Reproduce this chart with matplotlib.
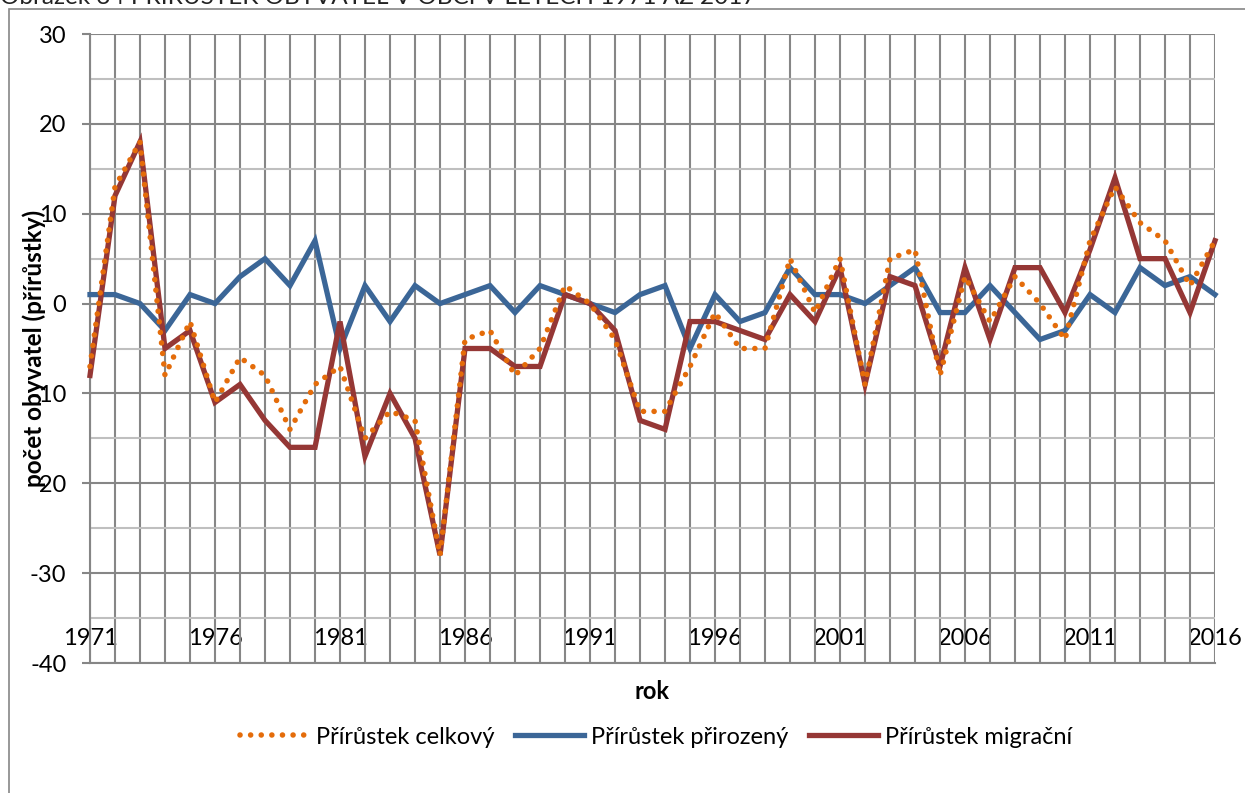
import matplotlib.pyplot as plt
from matplotlib.patches import Rectangle
from matplotlib.ticker import MultipleLocator

# DATA
years = list(range(1971, 2017))
celkovy = [-7, 13, 18, -8, -2, -11, -6, -8, -14, -9,
           -7, -15, -12, -13, -28, -4, -3, -8, -5, 2,
           0, -4, -12, -12, -7, -1, -5, -5, 5, -1,
           5, -9, 5, 6, -8, 3, -2, 3, 0, -4,
           7, 13, 9, 7, 2, 7]
prirozeny = [1, 1, 0, -3, 1, 0, 3, 5, 2, 7,
             -5, 2, -2, 2, 0, 1, 2, -1, 2, 1,
             0, -1, 1, 2, -5, 1, -2, -1, 4, 1,
             1, 0, 2, 4, -1, -1, 2, -1, -4, -3,
             1, -1, 4, 2, 3, 1]
migracni = [-8, 12, 18, -5, -3, -11, -9, -13, -16, -16,
            -2, -17, -10, -15, -28, -5, -5, -7, -7, 1,
            0, -3, -13, -14, -2, -2, -3, -4, 1, -2,
            4, -9, 3, 2, -7, 4, -4, 4, 4, -1,
            6, 14, 5, 5, -1, 7]
xtick_years = list(range(1971, 2017, 5))

plt.rcParams['font.family'] = ['Lato', 'DejaVu Sans']
plt.rcParams['axes.unicode_minus'] = False

fig = plt.figure(figsize=(12.45, 7.93), dpi=100)
W, H = 1245, 793
ax = fig.add_axes([90 / W, 1 - 663 / H, 1125 / W, 629 / H])

# RÁMEČEK GRAFU
fig.patches.append(Rectangle((9 / W, -0.1), 1.2, 1 - 9 / H + 0.1,
                             transform=fig.transFigure, fill=False,
                             edgecolor='#868686', linewidth=1.2))

# Nadpis (oříznutý nahoře)
fig.text(0 / W, 1 - 4 / H, 'Obrázek 34 PŘÍRŮSTEK OBYVATEL V OBCI V LETECH 1971 AŽ 2017',
         ha='left', va='baseline', fontsize=17.5, color='#222222')

# ČÁRY
ax.plot(years, celkovy, color='#E46C0A', linewidth=4, linestyle=(0, (0.01, 1.9)),
        dash_capstyle='round', label='Přírůstek celkový', zorder=5, clip_on=False)
ax.plot(years, prirozeny, color='#3B6697', linewidth=3.8, solid_joinstyle='miter',
        label='Přírůstek přirozený', zorder=3, clip_on=False)
ax.plot(years, migracni, color='#953735', linewidth=3.8, solid_joinstyle='miter',
        label='Přírůstek migrační', zorder=4, clip_on=False)

# OSY
ax.set_xlim(1971, 2016)
ax.set_ylim(-40, 30)
ax.yaxis.set_major_locator(MultipleLocator(10))
ax.yaxis.set_minor_locator(MultipleLocator(5))
ax.set_xticks(years, minor=True)
ax.set_xticks(xtick_years)
ax.set_xticklabels([str(y) for y in xtick_years])

ax.grid(True, which='major', axis='y', color='#868686', linewidth=1.5)
ax.grid(True, which='minor', axis='y', color='#BFBFBF', linewidth=1.5)
ax.grid(True, which='both', axis='x', color='#868686', linewidth=1.5)
ax.set_axisbelow(True)

for s in ['top', 'right']:
    ax.spines[s].set_visible(False)
ax.spines['left'].set_color('#868686')
ax.spines['bottom'].set_color('#868686')
ax.spines['left'].set_linewidth(1.5)
ax.spines['bottom'].set_linewidth(1.5)

ax.tick_params(axis='y', which='major', length=6, width=1.5, color='#868686',
               labelsize=17, pad=11)
ax.tick_params(axis='y', which='minor', length=0)
ax.tick_params(axis='x', which='both', length=0, labelsize=17, pad=-25)

ax.set_xlabel('rok', fontsize=17, fontweight='bold', labelpad=12)
fig.text(34 / W, 1 - 348 / H, 'počet obyvatel (přírůstky)', rotation=90,
         ha='center', va='center', fontsize=17.5, fontweight='bold')

ax.legend(loc='center', bbox_to_anchor=(656 / W, 1 - 737 / H),
          bbox_transform=fig.transFigure, ncol=3, frameon=False, fontsize=17,
          handlelength=2.9, handletextpad=0.3, columnspacing=0.9)

fig.savefig('out.png', dpi=100)
